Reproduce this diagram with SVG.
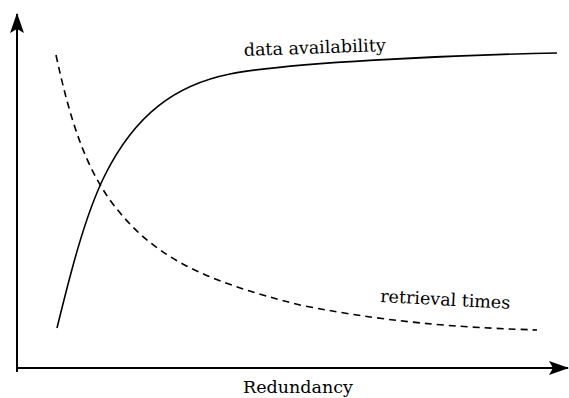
<svg xmlns="http://www.w3.org/2000/svg" width="569" height="398" viewBox="0 0 569 398">
<style>
.ax{stroke:#000;stroke-width:2;fill:none}
.c{stroke:#000;stroke-width:1.6;fill:none}
.d{stroke-dasharray:7,5}
text{font-family:"DejaVu Serif","Liberation Serif",serif;font-size:17.5px;fill:#000}
</style>
<defs>
<marker id="ar" viewBox="0 0 20 14" refX="19" refY="7" markerWidth="20" markerHeight="14" markerUnits="userSpaceOnUse" orient="auto">
<path d="M0,0 L20,7 L0,14 L4,7 Z" fill="#000"/>
</marker>
</defs>
<g id="axes">
<path class="ax" d="M17,372 L17,14" marker-end="url(#ar)"/>
<path class="ax" d="M16,368 L568,368" marker-end="url(#ar)"/>
</g>
<g id="connectors">
<path id="availability" class="c" d="M57,328 C70,275 85,215 105,175 C135,115 175,85 230,74 C285,63 450,55 557,53"/>
<path id="retrieval" class="c d" d="M56,55 C70,120 85,165 110,200 C150,255 200,280 300,305 C400,325 480,328 537,330"/>
</g>
<g id="labels">
<text x="244" y="56" transform="rotate(-2 244 56)">data availability</text>
<text x="380" y="302" transform="rotate(3 380 302)">retrieval times</text>
<text x="243" y="393">Redundancy</text>
</g>
</svg>
